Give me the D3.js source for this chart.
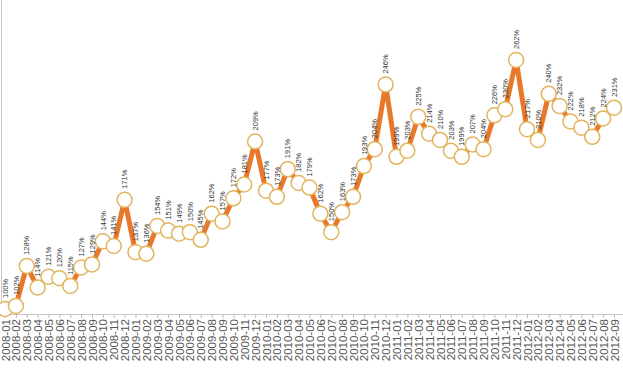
<!DOCTYPE html>
<html>
<head>
<meta charset="utf-8">
<script src="https://cdn.jsdelivr.net/npm/d3@7"></script>
<style>
  body { margin: 0; background: #fff; }
  svg { display: block; }
</style>
</head>
<body>
<div id="chart"></div>
<script>
// Monthly values, 2008-01 .. 2012-09
const months = [];
for (let y = 2008; y <= 2012; y++) {
    for (let m = 1; m <= 12; m++) {
        if (y === 2012 && m > 9) break;
        months.push(y + '-' + String(m).padStart(2, '0'));
    }
}

const values = [
    100, 102, 128, 114, 121, 120, 115, 127, 129, 144, 141, 171,
    137, 136, 154, 151, 149, 150, 145, 162, 157, 172, 181, 209,
    177, 173, 191, 182, 179, 162, 150, 163, 173, 193, 204, 246,
    199, 203, 225, 214, 210, 203, 199, 207, 204, 226, 230, 262,
    217, 210, 240, 232, 222, 218, 212, 224, 231
];

const data = months.map((m, i) => ({ month: m, value: values[i] }));

const width = 623, height = 378;
const axisY = 314;

const svg = d3.select('#chart')
    .append('svg')
    .attr('width', width)
    .attr('height', height);

const x = d3.scalePoint()
    .domain(months)
    .range([5, 614]);

const y = d3.scaleLinear()
    .domain([100, 262])
    .range([309, 60]);

// left border line
svg.append('line')
    .attr('x1', 1.5).attr('x2', 1.5)
    .attr('y1', 0).attr('y2', axisY)
    .attr('stroke', '#c8c8c8')
    .attr('stroke-width', 1);

// x axis
const xAxis = svg.append('g')
    .attr('transform', `translate(0,${axisY})`)
    .call(d3.axisBottom(x).tickSize(4).tickSizeOuter(0));

xAxis.select('.domain')
    .attr('stroke', '#c8c8c8')
    .attr('d', `M0,0.5H${width}`);
xAxis.selectAll('.tick line').attr('stroke', '#bdbdbd');
xAxis.selectAll('.tick text')
    .attr('transform', 'rotate(-90)')
    .attr('text-anchor', 'end')
    .attr('x', -5)
    .attr('y', 0)
    .attr('dy', '0.35em')
    .style('font-family', 'Liberation Sans, Arial, sans-serif')
    .style('font-size', '11.5px')
    .attr('fill', '#555');

// the line
const line = d3.line()
    .x(d => x(d.month))
    .y(d => y(d.value));

svg.append('path')
    .datum(data)
    .attr('fill', 'none')
    .attr('stroke', '#e8782a')
    .attr('stroke-width', 5)
    .attr('stroke-linejoin', 'round')
    .attr('d', line);

// markers
svg.selectAll('circle.pt')
    .data(data)
    .enter()
    .append('circle')
    .attr('class', 'pt')
    .attr('cx', d => x(d.month))
    .attr('cy', d => y(d.value))
    .attr('r', 7.5)
    .attr('fill', '#fff')
    .attr('stroke', '#e2b55e')
    .attr('stroke-width', 1.5);

// value labels, rotated
svg.selectAll('text.lbl')
    .data(data)
    .enter()
    .append('text')
    .attr('class', 'lbl')
    .attr('transform', d => `translate(${x(d.month)},${y(d.value) - 11}) rotate(-90)`)
    .attr('dy', '0.35em')
    .attr('text-anchor', 'start')
    .style('font-family', 'Liberation Sans, Arial, sans-serif')
    .style('font-size', '7.5px')
    .attr('fill', '#333')
    .text(d => d.value + '%');
</script>
</body>
</html>
